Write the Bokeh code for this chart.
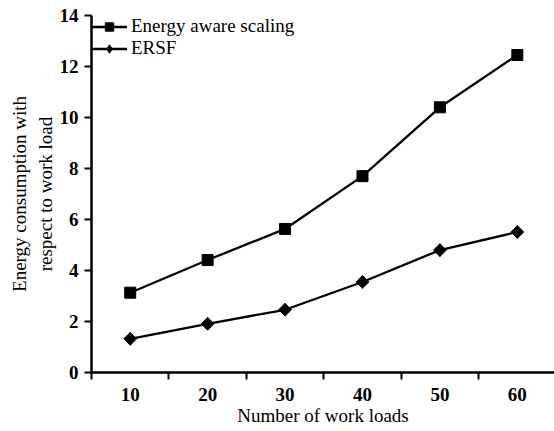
import math
from bokeh.plotting import figure
from bokeh.models import Range1d, FixedTicker, Legend, LegendItem
from bokeh.embed import file_html
from bokeh.resources import INLINE

workloads = ["10", "20", "30", "40", "50", "60"]
energy_aware_scaling = [3.13, 4.41, 5.63, 7.70, 10.40, 12.45]
ersf = [1.32, 1.91, 2.46, 3.55, 4.80, 5.51]
y_ticks = [0, 2, 4, 6, 8, 10, 12, 14]

xs = list(range(len(workloads)))
FONT = "Liberation Serif"

p = figure(width=554, height=428, output_backend="svg", toolbar_location=None,
           x_range=Range1d(-0.5, len(workloads) - 0.52), y_range=Range1d(0, 14),
           min_border_left=91, min_border_right=0, min_border_top=15, min_border_bottom=55)
p.outline_line_color = None
p.grid.visible = False
p.background_fill_color = "white"

l1 = p.line(xs, energy_aware_scaling, line_color="black", line_width=2.3)
m1 = p.scatter(xs, energy_aware_scaling, marker="square", size=11, color="black")
l2 = p.line(xs, ersf, line_color="black", line_width=2.3)
m2 = p.scatter(xs, ersf, marker="square", size=9, angle=math.pi / 4, color="black")
# diamond glyph sitting inside the rotated squares, used for the legend symbol
m2_leg = p.scatter(xs, ersf, marker="diamond", size=12.5, color="black")

p.xaxis.ticker = FixedTicker(ticks=xs, minor_ticks=[x - 0.5 for x in xs])
p.xaxis.major_label_overrides = {x: lab for x, lab in zip(xs, workloads)}
p.xaxis.major_tick_line_color = None
p.xaxis.major_tick_out = 7
p.xaxis.minor_tick_line_color = "black"
p.xaxis.minor_tick_line_width = 2
p.xaxis.minor_tick_out = 7
p.xaxis.minor_tick_in = 0
p.xaxis.major_label_standoff = 8
p.xaxis.axis_label = "Number of work loads"
p.xaxis.axis_label_standoff = 1

p.yaxis.ticker = FixedTicker(ticks=y_ticks)
p.yaxis.minor_tick_line_color = None
p.yaxis.major_tick_out = 7
p.yaxis.major_tick_in = 0
p.yaxis.major_tick_line_width = 2
p.yaxis.major_label_standoff = 6
p.yaxis.axis_label = "Energy consumption with\nrespect to work load"
p.yaxis.axis_label_standoff = 1

for ax in (p.xaxis, p.yaxis):
    ax.axis_line_width = 2.5
    ax.axis_line_color = "black"
    ax.major_label_text_font = FONT
    ax.major_label_text_font_size = "19px"
    ax.major_label_text_font_style = "bold"
    ax.major_label_text_color = "black"
    ax.axis_label_text_font = FONT
    ax.axis_label_text_font_size = "19px"
    ax.axis_label_text_font_style = "normal"
    ax.axis_label_text_color = "black"

legend = Legend(items=[LegendItem(label="Energy aware scaling", renderers=[l1, m1]),
                       LegendItem(label="ERSF", renderers=[l2, m2_leg])],
                location="top_left")
legend.background_fill_alpha = 0
legend.border_line_color = None
legend.label_text_font = FONT
legend.label_text_font_size = "19px"
legend.label_text_color = "black"
legend.glyph_width = 36
legend.glyph_height = 21
legend.label_height = 21
legend.spacing = 0
legend.padding = 4
legend.margin = 0
legend.label_standoff = 4
p.add_layout(legend)

open("out.html", "w").write(file_html(p, INLINE))
